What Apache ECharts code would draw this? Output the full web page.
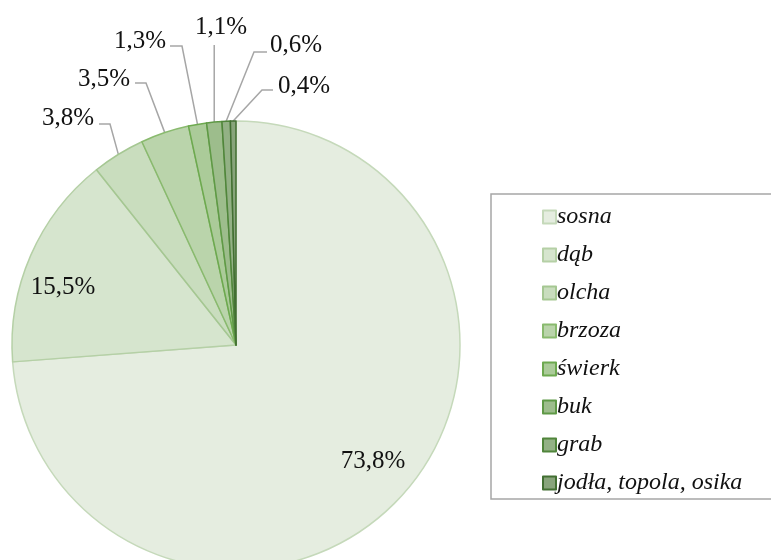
<!DOCTYPE html>
<html>
<head>
<meta charset="utf-8">
<script src="https://cdn.jsdelivr.net/npm/echarts@6/dist/echarts.min.js"></script>
<style>
  html, body { margin: 0; padding: 0; background: #fff; }
  #chart { width: 771px; height: 560px; }
</style>
</head>
<body>
<div id="chart"></div>
<script>
// Tree species share (%)
const species = ['sosna', 'dąb', 'olcha', 'brzoza', 'świerk', 'buk', 'grab', 'jodła, topola, osika'];
const shares = [73.8, 15.5, 3.8, 3.5, 1.3, 1.1, 0.6, 0.4];

// Monochrome green palette: slice fills and their outlines
const fills = ['#e5ede0', '#d6e5ce', '#c9ddbe', '#bad4ab', '#abcb99', '#9dbd8c', '#93b185', '#88a47b'];
const strokes = ['#c5d9ba', '#b5d0a6', '#a5c792', '#89ba6e', '#6da94f', '#5f9946', '#50853b', '#426f32'];

const CX = 236, CY = 345, R = 224;

// Label placement: inside labels for the two big slices, callouts for the rest
const labelPlacement = [
  { x: 373, y: 461, align: 'center' },
  { x: 63, y: 287, align: 'center' },
  { x: 94, y: 118, align: 'right', line: [[110, 124], [99, 124]] },
  { x: 130, y: 79, align: 'right', line: [[146, 83], [135, 83]] },
  { x: 166, y: 41, align: 'right', line: [[182, 46], [170, 46]] },
  { x: 221, y: 27, align: 'center', line: 'vertical', top: 45 },
  { x: 270, y: 45, align: 'left', line: [[254, 52], [267, 52]] },
  { x: 278, y: 86, align: 'left', line: [[262, 90], [273, 90]] }
];

const fmt = v => v.toFixed(1).replace('.', ',') + '%';

const data = species.map((name, i) => ({
  name,
  value: shares[i],
  itemStyle: { color: fills[i], borderColor: strokes[i], borderWidth: 1.5 },
  label: { position: i < 2 ? 'inside' : 'outside' },
  labelLine: { show: i >= 2 }
}));

const chart = echarts.init(document.getElementById('chart'), null, { renderer: 'canvas' });
chart.setOption({
  animation: false,
  backgroundColor: '#ffffff',
  legend: {
    orient: 'vertical',
    left: 537,
    top: 200,
    itemWidth: 13,
    itemHeight: 13,
    itemGap: 14,
    icon: 'rect',
    data: species,
    textStyle: {
      fontFamily: 'Liberation Serif',
      fontStyle: 'italic',
      fontSize: 24,
      color: '#111',
      padding: [0, 0, 0, -4]
    }
  },
  graphic: [{
    type: 'rect',
    shape: { x: 491, y: 194, width: 320, height: 305 },
    style: { fill: 'none', stroke: '#a6a6a6', lineWidth: 1.5 },
    z: -1
  }],
  series: [{
    type: 'pie',
    center: [CX, CY],
    radius: [0, R],
    startAngle: 90,
    clockwise: true,
    avoidLabelOverlap: false,
    data,
    label: {
      fontFamily: 'Liberation Serif',
      fontSize: 25,
      color: '#111',
      formatter: p => fmt(p.value)
    },
    labelLine: {
      length: 10,
      length2: 10,
      lineStyle: { color: '#a6a6a6', width: 1.5 }
    },
    labelLayout: function (params) {
      const L = labelPlacement[params.dataIndex];
      const out = { x: L.x, y: L.y, align: L.align, verticalAlign: 'middle' };
      const pts = params.labelLinePoints;
      if (L.line && pts && pts.length) {
        const p0 = pts[0];
        if (L.line === 'vertical') {
          out.labelLinePoints = [p0, [p0[0], L.top], [p0[0], L.top]];
        } else {
          out.labelLinePoints = [p0, L.line[0], L.line[1]];
        }
      }
      return out;
    }
  }]
});
</script>
</body>
</html>
